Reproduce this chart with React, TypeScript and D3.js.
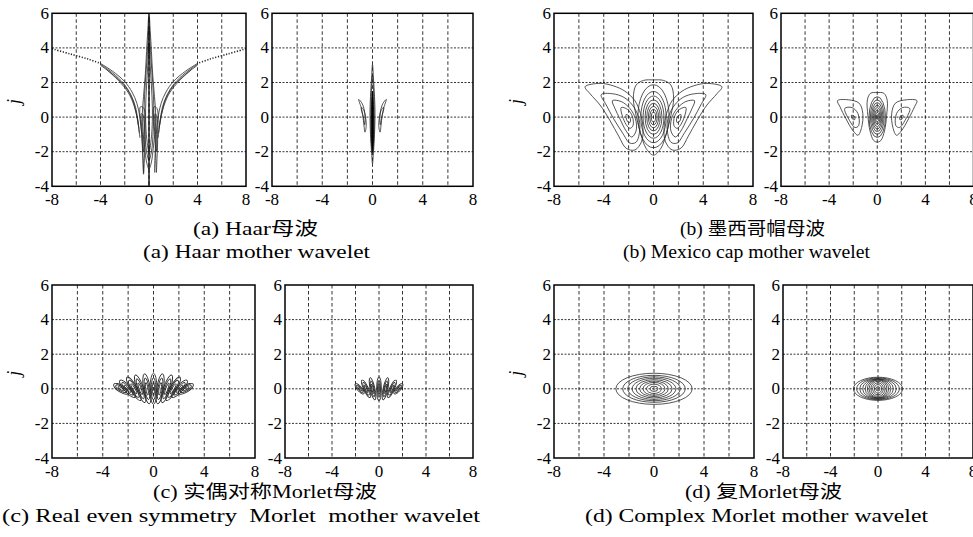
import React from "react";
import * as d3 from "d3";

type Pt = [number, number];
type Rect = { x: number; y: number; w: number; h: number };

// axes
const xDomain: [number, number] = [-8, 8];
const yDomain: [number, number] = [-4, 6];
const xTickLabels = [-8, -4, 0, 4, 8];
const yTickLabels = [6, 4, 2, 0, -2, -4];
const gridXs = [-6, -4, -2, 0, 2, 4, 6];
const gridYs = [4, 2, 0, -2];

// captions
const captionsZh = ["(a) Haar母波", "(b) 墨西哥帽母波", "(c) 实偶对称Morlet母波", "(d) 复Morlet母波"];
const captionsEn = [
  "(a) Haar mother wavelet",
  "(b) Mexico cap mother wavelet",
  "(c) Real even symmetry  Morlet  mother wavelet",
  "(d) Complex Morlet mother wavelet",
];

// (a) Haar, left panel: wing curves (left side, mirrored to the right)
const haarWingDotted: Pt[][] = [
  [[-8, 3.95], [-6.5, 3.65], [-5, 3.35], [-4, 3.1]],
];
const haarWings: Pt[][] = [
  [[-4, 3.1], [-3, 2.65], [-2, 2.05], [-1.4, 1.45], [-1.0, 0.8], [-0.75, 0.0], [-0.6, -1.0], [-0.5, -2.2], [-0.45, -3.2]],
  [[-4, 3.05], [-3, 2.55], [-2.1, 1.95], [-1.5, 1.3], [-1.1, 0.55], [-0.9, -0.3], [-0.75, -1.2]],
  [[-4, 3.0], [-2.8, 2.35], [-1.9, 1.7], [-1.35, 1.0], [-1.05, 0.2], [-0.85, -0.6]],
  [[-3.5, 2.75], [-2.5, 2.1], [-1.7, 1.4], [-1.25, 0.7], [-0.95, -0.1], [-0.8, -0.9]],
];
// central spikes, right halves (mirrored into closed shapes)
const haarSpikes: Pt[][] = [
  [[0, 6], [0.1, 5], [0.2, 3.8], [0.3, 2.5], [0.45, 1.2], [0.55, 0.2], [0.5, -0.8], [0.35, -1.8], [0.2, -2.6], [0, -3.0]],
  [[0, 5.2], [0.15, 3.5], [0.3, 2], [0.4, 0.6], [0.35, -0.8], [0.2, -2], [0, -2.5]],
  [[0, 4.3], [0.1, 3], [0.2, 1.8], [0.28, 0.5], [0.22, -1], [0, -2]],
];
const haarLegs: Pt[][] = [
  [[-0.7, 0.6], [-0.58, -1.2], [-0.5, -2.5], [-0.45, -3.3], [-0.38, -2.4], [-0.33, -1.0], [-0.42, 0.5]],
  [[0.42, 0.6], [0.5, -1.2], [0.56, -2.4], [0.6, -3.2], [0.66, -2.4], [0.72, -1.0], [0.66, 0.5]],
  [[-0.62, 0.2], [-0.52, -1.2], [-0.45, -2.0], [-0.4, -1.0], [-0.48, 0.1]],
  [[0.5, 0.2], [0.56, -1.2], [0.62, -2.0], [0.66, -1.0], [0.6, 0.1]],
];
// (a) Haar, right panel
const haarSmallSpikes: Pt[][] = [
  [[0, 3.05], [0.08, 2.2], [0.16, 1.2], [0.2, 0.2], [0.16, -1.0], [0.08, -2.0], [0, -2.7]],
  [[0, 2.4], [0.1, 1.2], [0.13, 0], [0.09, -1.4], [0, -2.2]],
];
const haarSmallCore: Pt[] = [[0, 1.5], [0.08, 0.6], [0.09, -0.8], [0.05, -1.6], [0, -2.0]];
const haarHorns: Pt[][] = [
  [[-1.1, 1.02], [-0.88, 0.5], [-0.72, -0.2], [-0.6, -0.87], [-0.5, -0.5], [-0.6, 0.2], [-0.82, 0.78]],
  [[-0.9, 0.55], [-0.73, 0.0], [-0.63, -0.45], [-0.58, 0.0], [-0.72, 0.45]],
];

// (b) Mexican hat, left panel
const mexCenterHalf: Pt[] = [[0, 2.15], [0.8, 2.12], [1.4, 1.85], [1.62, 1.1], [1.4, 0.1], [1.05, -0.9], [0.6, -1.8], [0, -2.2]];
const mexCenterRings: [number, number, number, number][] = [
  [0, 0.05, 1.25, 1.82], [0, 0, 1.02, 1.48], [0, 0, 0.84, 1.22], [0, 0, 0.68, 1.0],
  [0, 0, 0.54, 0.8], [0, 0, 0.41, 0.62], [0, 0, 0.29, 0.45], [0, 0, 0.17, 0.28],
];
const mexWings: Pt[][] = [
  [[-5.5, 1.75], [-4.3, 1.95], [-3.2, 1.8], [-2.3, 1.5], [-1.5, 0.95], [-1.05, 0.2], [-0.85, -0.6], [-0.95, -1.4], [-1.5, -1.9], [-2.2, -1.8], [-2.8, -1.1], [-3.5, -0.2], [-4.3, 0.7], [-5.1, 1.35]],
  [[-4.2, 1.3], [-3.3, 1.35], [-2.4, 1.15], [-1.7, 0.7], [-1.2, 0], [-1.1, -0.7], [-1.4, -1.45], [-1.9, -1.5], [-2.5, -0.9], [-3.2, -0.1], [-3.8, 0.7]],
  [[-3.3, 0.95], [-2.6, 0.9], [-1.9, 0.5], [-1.45, -0.1], [-1.4, -0.8], [-1.75, -1.15], [-2.2, -0.8], [-2.7, -0.1], [-3.1, 0.5]],
  [[-2.6, 0.55], [-2.1, 0.45], [-1.7, 0.05], [-1.65, -0.5], [-1.9, -0.65], [-2.3, -0.3]],
  [[-2.2, 0.15], [-1.9, 0.0], [-1.88, -0.3], [-2.1, -0.25]],
];
// (b) Mexican hat, right panel
const mexSmallHalf: Pt[] = [[0, 1.42], [0.55, 1.38], [0.82, 1.0], [0.78, 0.1], [0.6, -0.8], [0.3, -1.35], [0, -1.45]];
const mexSmallRings: [number, number, number, number][] = [
  [0, 0, 0.68, 1.18], [0, 0, 0.57, 1.0], [0, 0, 0.47, 0.84], [0, 0, 0.38, 0.69],
  [0, 0, 0.3, 0.55], [0, 0, 0.22, 0.41], [0, 0, 0.15, 0.27], [0, 0, 0.08, 0.14],
];
const mexSmallLobes: Pt[][] = [
  [[-3.3, 0.95], [-2.4, 1.0], [-1.5, 0.8], [-1.2, 0.2], [-1.3, -0.6], [-1.6, -1.05], [-2.0, -0.8], [-2.6, -0.1], [-3.1, 0.6]],
  [[-2.7, 0.5], [-2.1, 0.55], [-1.6, 0.2], [-1.55, -0.5], [-1.85, -0.6], [-2.3, -0.2]],
  [[-2.15, 0.1], [-1.9, 0.05], [-1.88, -0.15], [-2.05, -0.12]],
];

// (c) real even Morlet: oval centres, half heights and tilts (deg)
const morletWideX = [-2.55, -2.05, -1.55, -1.05, -0.52, 0, 0.52, 1.05, 1.55, 2.05, 2.55];
const morletWideRy = [0.5, 0.66, 0.78, 0.85, 0.88, 0.9, 0.88, 0.85, 0.78, 0.66, 0.5];
const morletWideTilt = [-58, -42, -30, -19, -9, 0, 9, 19, 30, 42, 58];
const morletNarrowX = [-1.65, -1.1, -0.55, 0, 0.55, 1.1, 1.65];
const morletNarrowRy = [0.38, 0.55, 0.66, 0.7, 0.66, 0.55, 0.38];
const morletNarrowTilt = [-40, -25, -12, 0, 12, 25, 40];

// (d) complex Morlet: nested ellipses [rx, ry]
const cmorWide: [number, number][] = [
  [3.05, 0.9], [2.5, 0.78], [2.1, 0.69], [1.75, 0.61], [1.45, 0.53], [1.15, 0.45], [0.88, 0.37], [0.6, 0.27], [0.32, 0.15],
];
const cmorNarrow: [number, number][] = [
  [2.07, 0.67], [1.8, 0.63], [1.55, 0.6], [1.3, 0.57], [1.08, 0.55], [0.9, 0.53], [0.75, 0.5], [0.6, 0.44], [0.45, 0.35], [0.3, 0.24], [0.16, 0.13],
];

// layout
const panelRects: Rect[] = [
  { x: 52, y: 13.3, w: 194, h: 173 },
  { x: 272, y: 13.3, w: 201, h: 173 },
  { x: 554, y: 13.3, w: 199, h: 173 },
  { x: 781, y: 13.3, w: 192.5, h: 173 },
  { x: 52, y: 285, w: 203, h: 173 },
  { x: 285, y: 285, w: 188, h: 173 },
  { x: 554, y: 285, w: 200, h: 173 },
  { x: 783, y: 285, w: 190, h: 173 },
];
const captionLayout = [
  { c1: 255.5, w1: 125, y1: 229, c2: 256.5, w2: 227, y2: 252 },
  { c1: 752.5, w1: 145, y1: 229, c2: 746.5, w2: 247, y2: 252 },
  { c1: 265, w1: 224, y1: 492, c2: 241, w2: 478, y2: 516 },
  { c1: 763.5, w1: 157, y1: 492, c2: 756.5, w2: 343, y2: 516 },
];

const FONT = "Liberation Serif, DejaVu Serif, Noto Sans CJK SC, serif";
const INK = "#2a2a2a";

const mirror = (pts: Pt[]): Pt[] => pts.map(([a, b]) => [-a, b] as Pt);
const closeHalf = (half: Pt[]): Pt[] => half.concat(mirror(half).slice(1, -1).reverse());

function curvePath(pts: Pt[], xs: any, ys: any, closed: boolean) {
  const gen = d3
    .line<Pt>()
    .x((d) => xs(d[0]))
    .y((d) => ys(d[1]))
    .curve(closed ? d3.curveCatmullRomClosed.alpha(0.5) : d3.curveCatmullRom.alpha(0.5));
  return gen(pts) || "";
}

function Ellipse({ cx, cy, rx, ry, tilt = 0, xs, ys, sw = 0.8 }: any) {
  const px = xs(cx);
  const py = ys(cy);
  return (
    <ellipse
      cx={px}
      cy={py}
      rx={Math.abs(xs(cx + rx) - px)}
      ry={Math.abs(ys(cy + ry) - py)}
      transform={`rotate(${tilt} ${px} ${py})`}
      fill="none"
      stroke={INK}
      strokeWidth={sw}
    />
  );
}

function haarLeft(xs: any, ys: any) {
  const out: any[] = [];
  [haarWingDotted, haarWings].forEach((set, si) =>
    set.forEach((c, i) => {
      [c, mirror(c)].forEach((p, k) =>
        out.push(
          <path key={`w${si}-${i}-${k}`} d={curvePath(p, xs, ys, false)} fill="none" stroke={INK}
            strokeWidth={si === 0 ? 1.6 : 0.8} strokeDasharray={si === 0 ? "1.2,1.6" : undefined} />
        )
      );
    })
  );
  haarSpikes.forEach((h, i) =>
    out.push(<path key={`s${i}`} d={curvePath(closeHalf(h), xs, ys, true)} fill="none" stroke={INK} strokeWidth={0.8} />)
  );
  haarLegs.forEach((l, i) =>
    out.push(<path key={`l${i}`} d={curvePath(l, xs, ys, true)} fill="none" stroke={INK} strokeWidth={0.8} />)
  );
  out.push(<line key="axis" x1={xs(0)} x2={xs(0)} y1={ys(-4)} y2={ys(5.8)} stroke="#000" strokeWidth={1.3} />);
  return out;
}

function haarRight(xs: any, ys: any) {
  const out: any[] = [];
  haarSmallSpikes.forEach((h, i) =>
    out.push(<path key={`s${i}`} d={curvePath(closeHalf(h), xs, ys, true)} fill="none" stroke={INK} strokeWidth={0.8} />)
  );
  out.push(<path key="core" d={curvePath(closeHalf(haarSmallCore), xs, ys, true)} fill="#000" stroke="#000" strokeWidth={0.8} />);
  haarHorns.forEach((h, i) =>
    [h, mirror(h)].forEach((p, k) =>
      out.push(<path key={`h${i}-${k}`} d={curvePath(p, xs, ys, true)} fill="none" stroke={INK} strokeWidth={0.8} />)
    )
  );
  return out;
}

function mexican(xs: any, ys: any, half: Pt[], rings: any[], side: Pt[][]) {
  const out: any[] = [];
  out.push(<path key="outer" d={curvePath(closeHalf(half), xs, ys, true)} fill="none" stroke={INK} strokeWidth={0.8} />);
  rings.forEach(([cx, cy, rx, ry]: number[], i: number) =>
    out.push(<Ellipse key={`r${i}`} cx={cx} cy={cy} rx={rx} ry={ry} xs={xs} ys={ys} />)
  );
  side.forEach((w, i) =>
    [w, mirror(w)].forEach((p, k) =>
      out.push(<path key={`w${i}-${k}`} d={curvePath(p, xs, ys, true)} fill="none" stroke={INK} strokeWidth={0.8} />)
    )
  );
  return out;
}

function morlet(xs: any, ys: any, cxs: number[], rys: number[], tilts: number[], rx: number) {
  const out: any[] = [];
  cxs.forEach((cx, i) => {
    out.push(<Ellipse key={`o${i}`} cx={cx} cy={0} rx={rx} ry={rys[i]} tilt={tilts[i]} xs={xs} ys={ys} sw={0.9} />);
    out.push(<Ellipse key={`m${i}`} cx={cx} cy={0} rx={rx * 0.65} ry={rys[i] * 0.72} tilt={tilts[i]} xs={xs} ys={ys} sw={0.9} />);
    out.push(<Ellipse key={`i${i}`} cx={cx} cy={0} rx={rx * 0.32} ry={rys[i] * 0.42} tilt={tilts[i]} xs={xs} ys={ys} sw={0.9} />);
  });
  return out;
}

function cmorlet(xs: any, ys: any, rings: [number, number][]) {
  return rings.map(([rx, ry], i) => <Ellipse key={i} cx={0} cy={0} rx={rx} ry={ry} xs={xs} ys={ys} />);
}

function Panel({ rect, ylabel, draw, id }: { rect: Rect; ylabel: boolean; draw: (xs: any, ys: any) => any; id: string }) {
  const { x, y, w, h } = rect;
  const xs = d3.scaleLinear().domain(xDomain).range([x, x + w]);
  const ys = d3.scaleLinear().domain(yDomain).range([y + h, y]);
  return (
    <g>
      <clipPath id={id}>
        <rect x={x} y={y} width={w} height={h} />
      </clipPath>
      {gridXs.map((g) => (
        <line key={`gx${g}`} x1={xs(g)} x2={xs(g)} y1={y} y2={y + h} stroke="#000" strokeWidth={0.8} strokeDasharray="3.5,2.5" />
      ))}
      {gridYs.map((g) => (
        <line key={`gy${g}`} x1={x} x2={x + w} y1={ys(g)} y2={ys(g)} stroke="#000" strokeWidth={0.8} strokeDasharray="2,1.5" />
      ))}
      <g clipPath={`url(#${id})`}>{draw(xs, ys)}</g>
      <rect x={x} y={y} width={w} height={h} fill="none" stroke="#000" strokeWidth={1.5} />
      {xTickLabels.map((t) => (
        <text key={`xt${t}`} x={xs(t)} y={y + h + 13} textAnchor="middle" dominantBaseline="central" fontSize={17}>
          {t}
        </text>
      ))}
      {yTickLabels.map((t) => (
        <text key={`yt${t}`} x={x - 3} y={ys(t)} textAnchor="end" dominantBaseline="central" fontSize={17}>
          {t}
        </text>
      ))}
      {ylabel && (
        <text x={x - 38} y={ys(0.9)} transform={`rotate(-90 ${x - 38} ${ys(0.9)})`} textAnchor="middle" dominantBaseline="central"
          fontSize={18} fontStyle="italic">
          j
        </text>
      )}
    </g>
  );
}

export default function App() {
  const draws = [
    haarLeft,
    haarRight,
    (xs: any, ys: any) => mexican(xs, ys, mexCenterHalf, mexCenterRings, mexWings),
    (xs: any, ys: any) => mexican(xs, ys, mexSmallHalf, mexSmallRings, mexSmallLobes),
    (xs: any, ys: any) => morlet(xs, ys, morletWideX, morletWideRy, morletWideTilt, 0.27),
    (xs: any, ys: any) => morlet(xs, ys, morletNarrowX, morletNarrowRy, morletNarrowTilt, 0.2),
    (xs: any, ys: any) => cmorlet(xs, ys, cmorWide),
    (xs: any, ys: any) => cmorlet(xs, ys, cmorNarrow),
  ];
  return (
    <div style={{ position: "absolute", left: 0, top: 0 }}>
      <svg width={973} height={537} style={{ display: "block", background: "#fff", fontFamily: FONT }}>
        {panelRects.map((r, i) => (
          <Panel key={i} id={`clip${i}`} rect={r} ylabel={i % 2 === 0} draw={draws[i]} />
        ))}
        {captionLayout.map((c, i) => (
          <g key={`cap${i}`} fontSize={18}>
            <text x={c.c1} y={c.y1} textAnchor="middle" dominantBaseline="central" textLength={c.w1} lengthAdjust="spacingAndGlyphs"
              style={{ whiteSpace: "pre" }}>
              {captionsZh[i]}
            </text>
            <text x={c.c2} y={c.y2} textAnchor="middle" dominantBaseline="central" textLength={c.w2} lengthAdjust="spacingAndGlyphs"
              style={{ whiteSpace: "pre" }}>
              {captionsEn[i]}
            </text>
          </g>
        ))}
      </svg>
    </div>
  );
}
